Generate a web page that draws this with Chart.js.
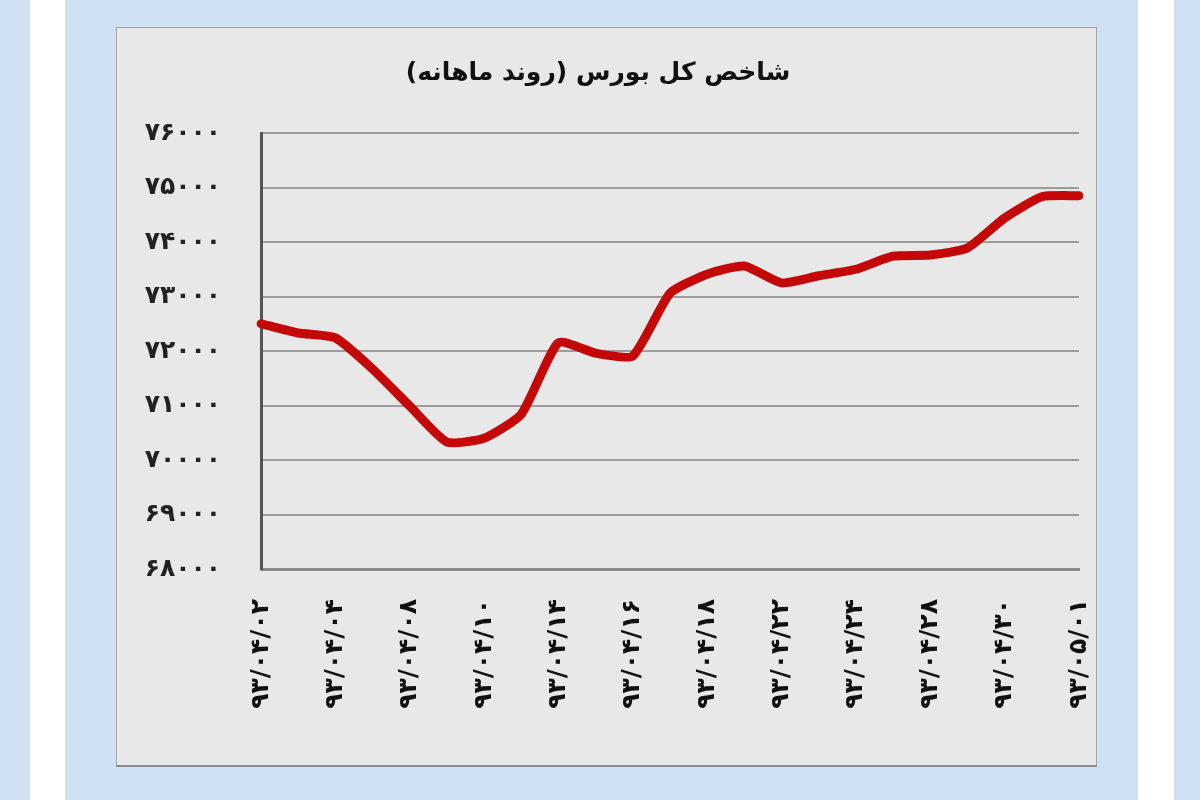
<!DOCTYPE html>
<html>
<head>
<meta charset="utf-8">
<script src="https://cdn.jsdelivr.net/npm/chart.js@4"></script>
<style>
  html, body { margin: 0; padding: 0; }
  body { width: 1200px; height: 800px; background: #cfe1f2; position: relative; overflow: hidden; }
  .strip { position: absolute; top: 0; height: 800px; background: #ffffff; }
  #panel {
    position: absolute; left: 116px; top: 27px; width: 979px; height: 737px;
    background: #e8e8e8; border: 1px solid #a4a4a4; border-bottom: 2px solid #8c8c8c;
  }
  #chart { display: block; }
</style>
</head>
<body>
<div class="strip" style="left:30px;width:35px"></div>
<div class="strip" style="left:1138px;width:36px"></div>
<div id="panel"><canvas id="chart" width="979" height="737"></canvas></div>
<script>
// تاریخ‌های معاملاتی
const dates = ['۹۳/۰۴/۰۲', '۹۳/۰۴/۰۳', '۹۳/۰۴/۰۴', '۹۳/۰۴/۰۷', '۹۳/۰۴/۰۸', '۹۳/۰۴/۰۹',
               '۹۳/۰۴/۱۰', '۹۳/۰۴/۱۱', '۹۳/۰۴/۱۴', '۹۳/۰۴/۱۵', '۹۳/۰۴/۱۶', '۹۳/۰۴/۱۷',
               '۹۳/۰۴/۱۸', '۹۳/۰۴/۲۱', '۹۳/۰۴/۲۲', '۹۳/۰۴/۲۳', '۹۳/۰۴/۲۴', '۹۳/۰۴/۲۵',
               '۹۳/۰۴/۲۸', '۹۳/۰۴/۲۹', '۹۳/۰۴/۳۰', '۹۳/۰۴/۳۱', '۹۳/۰۵/۰۱'];
// شاخص کل
const indexValues = [72500, 72330, 72240, 71670, 70990, 70330, 70400, 70840, 72150, 71960, 71910, 73060,
                     73410, 73560, 73250, 73380, 73500, 73740, 73760, 73890, 74440, 74830, 74850];
const yMin = 68000;
const yMax = 76000;
const yStep = 1000;
const title = 'شاخص کل بورس (روند ماهانه)';

const faDigits = '۰۱۲۳۴۵۶۷۸۹';
function toFa(n) {
    return String(n).replace(/\d/g, d => faDigits[d]);
}

const ctx = document.getElementById('chart').getContext('2d');
new Chart(ctx, {
    type: 'line',
    data: {
        labels: dates,
        datasets: [{
            data: indexValues,
            borderColor: '#c40808',
            borderWidth: 9,
            pointRadius: 0,
            tension: 0.18,
            borderJoinStyle: 'round',
            borderCapStyle: 'round',
            fill: false
        }]
    },
    options: {
        responsive: false,
        animation: false,
        devicePixelRatio: 1,
        layout: { padding: { left: 0, right: 17, top: 0, bottom: 0 } },
        plugins: {
            legend: { display: false },
            tooltip: { enabled: false },
            title: {
                display: true,
                // علامت RLM تا پرانتزها در متن راست‌به‌چپ درست بنشینند
                text: '\u200F' + title + '\u200F',
                color: '#111',
                font: { family: 'DejaVu Sans', size: 25, weight: 'bold' },
                padding: { top: 30, bottom: 45 }
            }
        },
        scales: {
            x: {
                grid: { display: false },
                border: { display: true, color: '#8a8a8a', width: 3 },
                // اندازه ثابت برای محورها تا ناحیه رسم با تصویر بخواند
                afterFit: s => { s.height = 196; s.paddingLeft = 0; s.paddingRight = 0; },
                ticks: {
                    autoSkip: false,
                    maxRotation: 90,
                    minRotation: 90,
                    padding: 22,
                    color: '#111',
                    font: { family: 'DejaVu Sans', size: 25, weight: 'bold' },
                    callback: function (val, i) { return i % 2 === 0 ? this.getLabelForValue(val) : ''; }
                }
            },
            y: {
                min: yMin,
                max: yMax,
                afterFit: s => { s.width = 144; },
                grid: { color: '#9c9c9c', lineWidth: 2, drawTicks: false },
                border: { display: true, color: '#555', width: 3 },
                ticks: {
                    stepSize: yStep,
                    padding: 40,
                    color: '#222',
                    font: { family: 'DejaVu Sans', size: 25, weight: 'bold' },
                    callback: v => toFa(v)
                }
            }
        }
    }
});
</script>
</body>
</html>
